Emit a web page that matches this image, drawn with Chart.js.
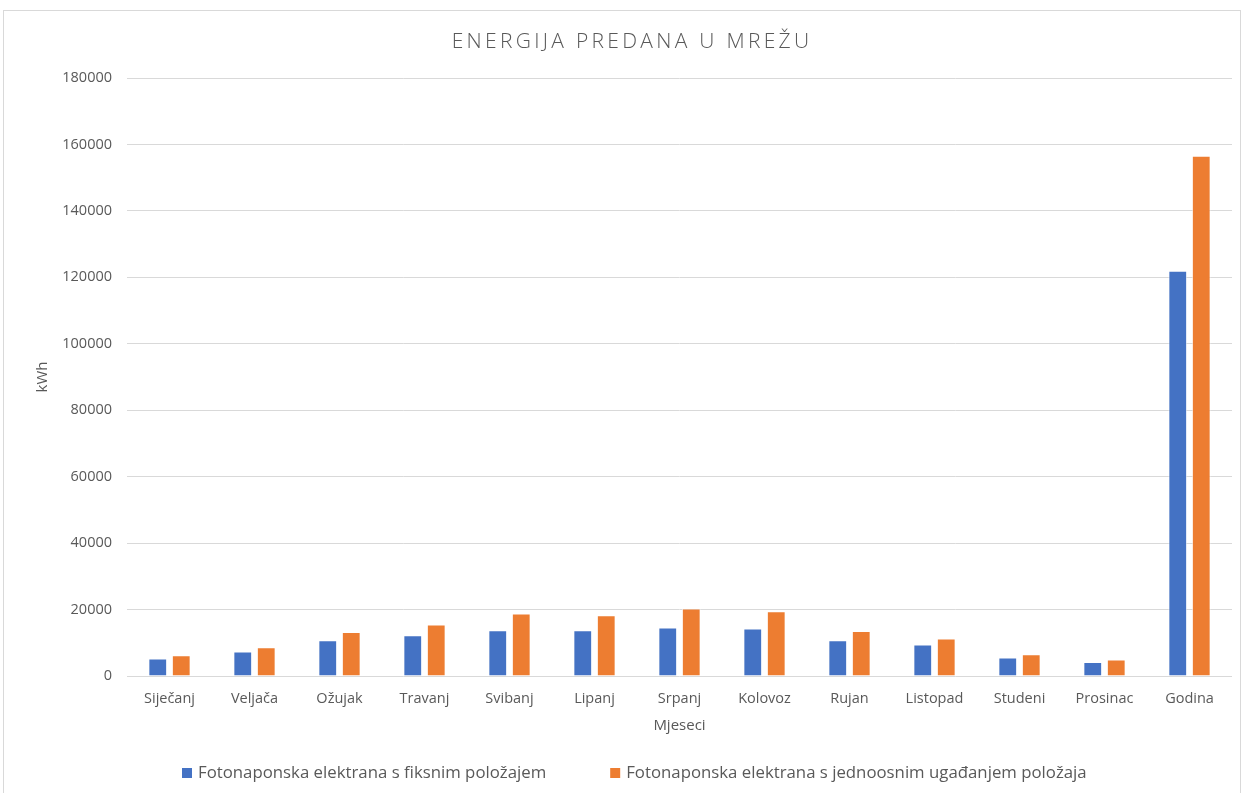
<!DOCTYPE html>
<html>
<head>
<meta charset="utf-8">
<script src="https://cdn.jsdelivr.net/npm/chart.js@4/dist/chart.umd.min.js"></script>
<style>
  html, body { margin: 0; padding: 0; background: #fff; }
  #wrap { width: 1247px; height: 793px; position: relative; }
</style>
</head>
<body>
<div id="wrap"><canvas id="energyChart"></canvas></div>
<script>
const months = ['Siječanj', 'Veljača', 'Ožujak', 'Travanj', 'Svibanj', 'Lipanj', 'Srpanj', 'Kolovoz', 'Rujan', 'Listopad', 'Studeni', 'Prosinac', 'Godina']
const fixedPanels = [5240, 7350, 10750, 12260, 13760, 13760, 14580, 14280, 10750, 9460, 5540, 4220, 122000]
const trackingPanels = [6230, 8640, 13250, 15480, 18790, 18280, 20300, 19490, 13550, 11260, 6540, 4940, 156600]
const fixedLabel = 'Fotonaponska elektrana s fiksnim položajem'
const trackingLabel = 'Fotonaponska elektrana s jednoosnim ugađanjem položaja'
const chartTitle = 'ENERGIJA PREDANA U MREŽU'

const blue = '#4472C4'
const orange = '#ED7D31'
const textColor = '#595959'
const fontFamily = '"Open Sans", sans-serif'

// frame, spaced-out title and the legend row are drawn by hand
const decorations = {
    id: 'decorations',
    beforeDraw(chart) {
        const c = chart.ctx
        c.save()
        c.strokeStyle = '#d9d9d9'
        c.lineWidth = 1
        c.strokeRect(3.5, 10.5, 1237, 790)
        c.restore()
    },
    afterDraw(chart) {
        const c = chart.ctx
        c.save()
        c.font = '300 21px ' + fontFamily
        c.fillStyle = textColor
        c.letterSpacing = '3.3px'
        c.textAlign = 'center'
        c.textBaseline = 'middle'
        c.fillText(chartTitle, 632, 42)
        c.letterSpacing = '0px'

        // legend
        const items = chart.data.datasets.map(ds => ({ text: ds.label, color: ds.backgroundColor }))
        c.font = '16.8px ' + fontFamily
        c.textAlign = 'left'
        let x = 182
        const y = 773
        items.forEach(it => {
            c.fillStyle = it.color
            c.fillRect(x, y - 5, 10, 10)
            c.fillStyle = textColor
            c.fillText(it.text, x + 16, y)
            x += 16 + c.measureText(it.text).width + 64
        })
        c.restore()
    }
}

const ctx = document.getElementById('energyChart').getContext('2d')

const energyChart = new Chart(ctx, {
    type: 'bar',
    data: {
        labels: months,
        datasets: [{
            label: fixedLabel,
            data: fixedPanels,
            backgroundColor: blue,
            borderColor: 'rgba(255,255,255,0.6)',
            borderWidth: 1,
            categoryPercentage: 0.553,
            barPercentage: 0.8
        }, {
            label: trackingLabel,
            data: trackingPanels,
            backgroundColor: orange,
            borderColor: 'rgba(255,255,255,0.6)',
            borderWidth: 1,
            categoryPercentage: 0.553,
            barPercentage: 0.8
        }]
    },
    options: {
        responsive: true,
        maintainAspectRatio: false,
        animation: false,
        layout: {
            padding: { left: 20, right: 15, top: 78, bottom: 47 }
        },
        plugins: {
            legend: { display: false },
            title: { display: false },
            tooltip: { enabled: false }
        },
        scales: {
            x: {
                grid: { display: false },
                border: { display: false },
                ticks: {
                    color: textColor,
                    font: { family: fontFamily, size: 14.5 },
                    padding: 6
                },
                title: {
                    display: true,
                    text: 'Mjeseci',
                    color: textColor,
                    font: { family: fontFamily, size: 15 },
                    padding: { top: 0, bottom: 11 }
                },
                afterFit(scale) { scale.height = 70 }
            },
            y: {
                min: 0,
                max: 180000,
                ticks: {
                    stepSize: 20000,
                    color: textColor,
                    font: { family: fontFamily, size: 14.5 },
                    padding: 15,
                    callback: v => String(v)
                },
                grid: { color: '#d9d9d9', lineWidth: 1, drawTicks: false },
                border: { display: false },
                title: {
                    display: true,
                    text: 'kWh',
                    color: textColor,
                    font: { family: fontFamily, size: 15 },
                    padding: { top: 14, bottom: 0 }
                },
                afterFit(scale) { scale.width = 107 }
            }
        }
    },
    plugins: [decorations]
})
</script>
</body>
</html>
